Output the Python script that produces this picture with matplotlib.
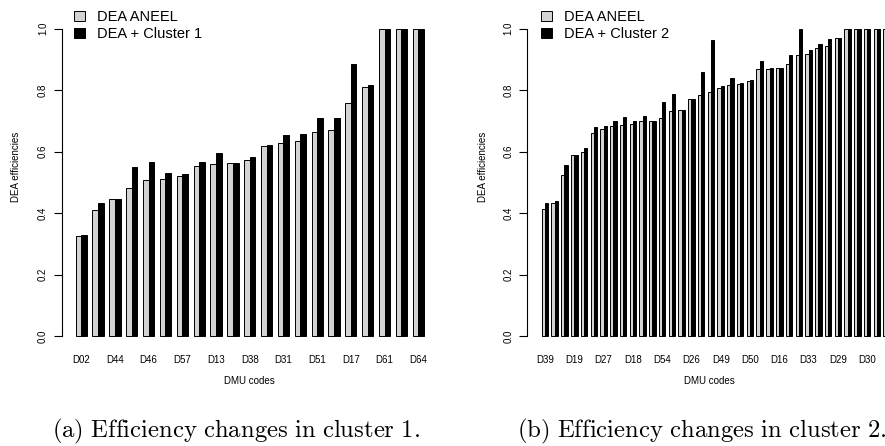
import numpy as np
import matplotlib
matplotlib.use('Agg')
import matplotlib.pyplot as plt

plt.rcParams['font.family'] = ['Liberation Sans', 'DejaVu Sans']
plt.rcParams['mathtext.fontset'] = 'cm'

# cluster 1 (sorted by DEA ANEEL efficiency)
names1 = ['D02', 'D44', 'D46', 'D57', 'D13', 'D38', 'D31', 'D51', 'D17', 'D61', 'D64']
aneel1 = [0.324, 0.411, 0.445, 0.483, 0.509, 0.510, 0.520, 0.553, 0.560, 0.562, 0.573,
          0.618, 0.629, 0.636, 0.663, 0.671, 0.760, 0.812, 1.0, 1.0, 1.0]
clust1 = [0.329, 0.432, 0.446, 0.551, 0.565, 0.531, 0.528, 0.566, 0.597, 0.563, 0.583,
          0.623, 0.653, 0.656, 0.711, 0.711, 0.887, 0.817, 1.0, 1.0, 1.0]

# cluster 2
names2 = ['D39', 'D19', 'D27', 'D18', 'D54', 'D26', 'D49', 'D50', 'D16', 'D33', 'D29', 'D30']
aneel2 = [0.414, 0.434, 0.523, 0.589, 0.600, 0.662, 0.673, 0.685, 0.686, 0.689, 0.699, 0.700,
          0.710, 0.731, 0.736, 0.773, 0.783, 0.794, 0.807, 0.816, 0.820, 0.830, 0.868, 0.869,
          0.872, 0.887, 0.915, 0.918, 0.938, 0.945, 0.969, 1.0, 1.0, 1.0, 1.0, 1.0]
clust2 = [0.434, 0.440, 0.557, 0.589, 0.611, 0.679, 0.684, 0.701, 0.712, 0.701, 0.716, 0.700,
          0.763, 0.788, 0.737, 0.773, 0.858, 0.963, 0.815, 0.841, 0.822, 0.832, 0.896, 0.872,
          0.872, 0.914, 1.0, 0.930, 0.949, 0.967, 0.969, 1.0, 1.0, 1.0, 1.0, 1.0]

W, H = 885, 446

fig = plt.figure(figsize=(W/100, H/100), dpi=100)

def px(x0, y_top, x1, y_bot):
    # pixel box -> figure coords
    return [x0/W, 1 - y_bot/H, (x1 - x0)/W, (y_bot - y_top)/H]

def barpanel(ax, a, b, names, step, cl_label, xlim, leg_x):
    n = len(a)
    x = np.arange(n)*3
    ax.bar(x + 1.5, a, 1.0, color='#d3d3d3', edgecolor='black', linewidth=0.7, label='DEA ANEEL')
    ax.bar(x + 2.5, b, 1.0, color='black', edgecolor='black', linewidth=0.7, label=cl_label)
    ax.set_xlim(xlim)
    ax.set_ylim(-0.04, 1.04)
    for s in ['top', 'right', 'bottom']:
        ax.spines[s].set_visible(False)
    ax.spines['left'].set_bounds(0, 1)
    ax.spines['left'].set_linewidth(0.8)
    ax.set_yticks(np.arange(0, 1.01, 0.2))
    ax.set_yticklabels(['%.1f' % v for v in np.arange(0, 1.01, 0.2)], rotation=90, va='center')
    ax.tick_params(axis='y', length=5.8, width=0.8, labelsize=7, pad=4)
    ax.set_xticks(x[::step] + 2)
    ax.set_xticklabels(names)
    ax.tick_params(axis='x', length=0, labelsize=7, pad=5)
    ax.set_xlabel('DMU codes', fontsize=7)
    ax.set_ylabel('DEA efficiencies', fontsize=7)
    ax.patch.set_alpha(0)
    ax.legend(loc='upper left', bbox_to_anchor=(leg_x/W, 1 - 10/H), bbox_transform=fig.transFigure,
              frameon=False, fontsize=10.5, handlelength=0.72, handleheight=0.72,
              handletextpad=0.85, labelspacing=0.2, borderpad=0, borderaxespad=0)

ax1 = fig.add_axes(px(61.7, 16.5, 437.8, 348.3))
barpanel(ax1, aneel1, clust1, names1, 2, 'DEA + Cluster 1', (-1.48, 65.48), 74)
ax1.xaxis.set_label_coords(0.5, -0.10)
ax1.xaxis.label.set_va('center')
ax1.yaxis.set_label_coords(-0.122, 0.546)
ax1.yaxis.label.set_va('center')

ax2 = fig.add_axes(px(527.3, 16.5, 914.0, 348.3))
barpanel(ax2, aneel2, clust2, names2, 3, 'DEA + Cluster 2', (-3.43, 115.4), 541)
ax2.xaxis.set_label_coords((709 - 527.3)/386.7, -0.10)
ax2.xaxis.label.set_va('center')
ax2.yaxis.set_label_coords((482.5 - 527.3)/386.7, 0.546)
ax2.yaxis.label.set_va('center')

fig.text(51.7/W, 1 - 431.7/H, r'$\mathrm{(a)\ Efficiency\ changes\ in\ cluster\ 1.}$',
         fontsize=17.8, ha='left', va='center')
fig.text(517/W, 1 - 431.7/H, r'$\mathrm{(b)\ Efficiency\ changes\ in\ cluster\ 2.}$',
         fontsize=17.8, ha='left', va='center')

fig.savefig('out.png', dpi=100)
